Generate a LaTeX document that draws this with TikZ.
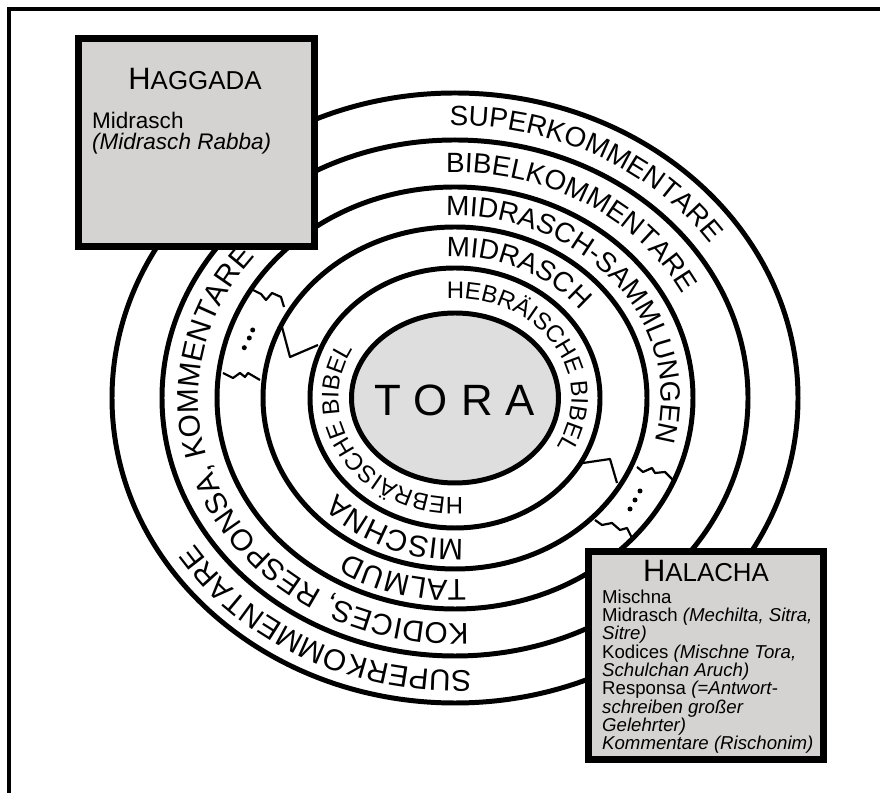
\documentclass[tikz,border=0pt]{standalone}
\usepackage{fontspec}
\setmainfont{Liberation Sans}
\usepackage{tikz}
\usetikzlibrary{decorations.text}

\definecolor{boxgray}{RGB}{213,210,210}
\definecolor{toragray}{RGB}{222,222,222}

\newcommand{\ringfont}{\fontsize{28}{28}\selectfont}
\newcommand{\lowringfont}{\fontsize{30}{30}\selectfont}
\newcommand{\hebrfont}{\fontsize{24}{24}\selectfont}
\newcommand{\boxtitle}[2]{{\fontsize{31}{31}\selectfont #1}{\fontsize{26}{26}\selectfont #2}}

% text along an elliptic arc round the centre (C), clockwise
\newcommand{\ringtext}[6]{%
  \path[decorate, decoration={text along path, text align=left, text={|#5|#6}}]
    (C) ++(#3:#1 and #2) arc[start angle=#3, end angle=#4, x radius=#1, y radius=#2];}

\begin{document}
\begin{tikzpicture}[x=1bp, y=1bp, ring/.style={line width=5}, tear/.style={line width=2.2, line join=round}]
  \useasboundingbox (0, 0) rectangle (880, 793);
  \coordinate (C) at (455, 395);
  % frame
  \draw[line width=4] (8.7, 0) -- (8.7, 784) -- (880, 784);

  % rings
  \draw[ring] (C) ellipse[x radius=343, y radius=305];
  \draw[ring] (C) ellipse[x radius=293, y radius=258];
  \draw[ring] (C) ellipse[x radius=238, y radius=211];
  \draw[ring] (C) ellipse[x radius=192, y radius=171];
  \draw[ring] (C) ellipse[x radius=145, y radius=130];
  \draw[ring, fill=toragray] (C) ellipse[x radius=103.5, y radius=85];
  \node (tora) at (455, 393) {\fontsize{44}{44}\selectfont\addfontfeature{LetterSpace=30}TORA};

  % breaks between haggada and halacha
  \draw[tear] (282, 466) -- (290, 436) -- (318, 448);
  \draw[tear] (583, 330) -- (610, 334) -- (617, 310);
  \draw[tear] (253, 503) -- (261, 499) -- (266, 493) -- (272, 500) -- (281, 496) -- (284, 486);
  \draw[tear] (223, 420) -- (233, 415) -- (240, 420) -- (245, 416) -- (248, 420) -- (260, 413);
  \draw[tear] (637, 326) -- (643, 321) -- (652, 325) -- (655, 320) -- (665, 321) -- (673, 313);
  \draw[tear] (595, 273) -- (602, 268) -- (612, 270) -- (620, 263) -- (627, 265) -- (632, 255);
  \foreach \p in {(252.7, 463), (249.3, 455), (244.3, 445.3), (640, 302), (635, 293), (630, 284)}
    \fill \p circle[radius=2.5];

  % ring texts
  \ringtext{116.5}{99.75}{94}{-80}{\hebrfont}{HEBRÄISCHE BIBEL}
  \ringtext{116.5}{99.75}{-86}{-260}{\hebrfont}{HEBRÄISCHE BIBEL}
  \ringtext{159.5}{141.5}{93}{-20}{\ringfont}{MIDRASCH}
  \ringtext{159.5}{141.5}{-87}{-200}{\lowringfont}{MISCHNA}
  \ringtext{206}{182}{92.5}{-60}{\ringfont}{MIDRASCH-SAMMLUNGEN}
  \ringtext{206}{182}{-87}{-200}{\lowringfont}{TALMUD}
  \ringtext{256.5}{225.5}{92}{-20}{\ringfont}{BIBELKOMMENTARE}
  \ringtext{256.5}{225.5}{-87}{-265}{\lowringfont}{KODICES, RESPONSA, KOMMENTARE}
  \ringtext{309}{272.5}{91}{-20}{\ringfont}{SUPERKOMMENTARE}
  \ringtext{309}{272.5}{-87}{-220}{\lowringfont}{SUPERKOMMENTARE}

  % haggada
  \draw[line width=7, fill=boxgray] (78.5, 546.5) rectangle (314.5, 754.5);
  \node[anchor=base, inner sep=0] (haggada) at (195, 703) {\boxtitle{H}{AGGADA}};
  \node[anchor=base west, inner sep=0] (haggadatext) at (92, 664)
    {\parbox[t]{215bp}{\fontsize{22.6}{20.7}\selectfont Midrasch\\\textit{(Midrasch Rabba)}}};

  % halacha
  \draw[line width=7, fill=boxgray] (588.5, 33.5) rectangle (823.5, 241.5);
  \node[anchor=base, inner sep=0] (halacha) at (706, 211) {\boxtitle{H}{ALACHA}};
  \node[anchor=base west, inner sep=0] (halachatext) at (602, 189)
    {\parbox[t]{220bp}{\fontsize{18.7}{17.4}\selectfont
      Mischna\\
      Midrasch \textit{(Mechilta, Sitra,}\\
      \textit{Sitre)}\\
      Kodices \textit{(Mischne Tora,}\\
      \textit{Schulchan Aruch)}\\
      Responsa \textit{(=Antwort-}\\
      \textit{schreiben großer}\\
      \textit{Gelehrter)}\\
      \textit{Kommentare (Rischonim)}}};
\end{tikzpicture}
\end{document}
